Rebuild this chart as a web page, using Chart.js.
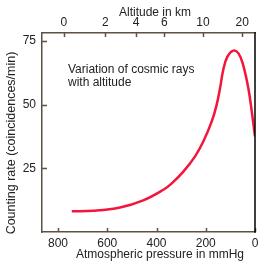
<!DOCTYPE html>
<html>
<head>
<meta charset="utf-8">
<script src="https://cdn.jsdelivr.net/npm/chart.js@4"></script>
<style>
  html, body { margin: 0; padding: 0; background: #fff; }
  #wrap { width: 266px; height: 268px; }
</style>
</head>
<body>
<div id="wrap"><canvas id="cosmic"></canvas></div>
<script>
// counting rate vs atmospheric pressure
var pressure = [744, 657, 548, 454, 372, 338, 291, 244, 210, 176, 156, 142, 129, 112, 88, 67, 48, 27, 13, 0];
var rate = [8.1, 8.3, 9.6, 12.4, 16.6, 19.1, 23.7, 29.6, 35.5, 43.3, 49.8, 56.4, 63.6, 68.8, 71.2, 70.1, 65.5, 56.4, 47.2, 37.5];

// bottom axis ticks
var pressureTicks = [800, 600, 400, 200, 0];
// top axis: altitude labels and the pressure where each one sits
var altitudeKm = [0, 2, 4, 6, 10, 20];
var altitudeAt = [776, 608, 483, 368, 211, 52];
// left axis ticks
var rateTicks = [25, 50, 75];

var axisColor = '#5b5245';
var textColor = '#222';
var font = 'Liberation Sans, Arial, Helvetica, sans-serif';

// inward tick marks, right border, axis titles and the note
var framePlugin = {
    id: 'frame',
    afterDraw: function(chart) {
        var ctx = chart.ctx;
        var a = chart.chartArea;
        var x = chart.scales.x, x2 = chart.scales.x2, y = chart.scales.y;
        ctx.save();
        ctx.strokeStyle = axisColor;
        ctx.lineWidth = 1.5;
        ctx.beginPath();
        x.ticks.forEach(function(t) {
            var px = Math.round(x.getPixelForValue(t.value)) + 0.5;
            ctx.moveTo(px, a.bottom); ctx.lineTo(px, a.bottom - 4);
        });
        x2.ticks.forEach(function(t) {
            var px = Math.round(x2.getPixelForValue(t.value)) + 0.5;
            ctx.moveTo(px, a.top); ctx.lineTo(px, a.top + 4);
        });
        y.ticks.forEach(function(t) {
            var py = Math.round(y.getPixelForValue(t.value)) + 0.5;
            ctx.moveTo(a.left, py); ctx.lineTo(a.left + 5, py);
        });
        ctx.stroke();

        ctx.strokeStyle = '#000';
        ctx.lineWidth = 1.5;
        ctx.beginPath();
        ctx.moveTo(a.right, a.top - 0.75); ctx.lineTo(a.right, a.bottom + 0.75);
        ctx.stroke();

        ctx.fillStyle = textColor;
        ctx.font = '12px ' + font;
        ctx.textAlign = 'center';
        ctx.textBaseline = 'middle';
        ctx.fillText('Altitude in km', 155, 13);
        ctx.fillText('Atmospheric pressure in mmHg', 160, 255);
        ctx.save();
        ctx.translate(12, 143);
        ctx.rotate(-Math.PI / 2);
        ctx.font = '12.5px ' + font;
        ctx.fillText('Counting rate (coincidences/min)', 0, 0);
        ctx.restore();

        ctx.textAlign = 'left';
        ctx.fillText('Variation of cosmic rays', a.left + 26, 70);
        ctx.fillText('with altitude', a.left + 26, 82.5);
        ctx.restore();
    }
};

var noGrid = { display: false, drawTicks: false, tickLength: 0 };

var chart = new Chart(document.getElementById('cosmic'), {
    type: 'line',
    data: {
        datasets: [{
            data: pressure.map(function(p, i) { return { x: p, y: rate[i] }; }),
            borderColor: '#f5143c',
            borderWidth: 2.5,
            pointRadius: 0,
            tension: 0.4,
            fill: false
        }]
    },
    options: {
        responsive: true,
        maintainAspectRatio: false,
        animation: false,
        layout: { padding: { left: 0, right: 11, top: 0, bottom: 0 } },
        plugins: { legend: { display: false }, tooltip: { enabled: false } },
        scales: {
            x: {
                type: 'linear',
                position: 'bottom',
                reverse: true,
                min: 0,
                max: 865,
                afterBuildTicks: function(s) { s.ticks = pressureTicks.map(function(v) { return { value: v }; }); },
                afterFit: function(s) { s.height = 36; },
                grid: noGrid,
                border: { display: true, color: axisColor, width: 1.5 },
                ticks: { padding: 4, color: textColor, font: { family: font, size: 12 }, maxRotation: 0 }
            },
            x2: {
                type: 'linear',
                position: 'top',
                reverse: true,
                min: 0,
                max: 865,
                afterBuildTicks: function(s) { s.ticks = altitudeAt.map(function(v) { return { value: v }; }); },
                afterFit: function(s) { s.height = 33; },
                grid: noGrid,
                border: { display: true, color: axisColor, width: 1.5 },
                ticks: {
                    padding: 3, color: textColor, font: { family: font, size: 12 }, maxRotation: 0,
                    callback: function(v, i) { return String(altitudeKm[i]); }
                }
            },
            y: {
                type: 'linear',
                min: 0,
                max: 78.1,
                afterBuildTicks: function(s) { s.ticks = rateTicks.map(function(v) { return { value: v }; }); },
                afterFit: function(s) { s.width = 42; },
                grid: noGrid,
                border: { display: true, color: axisColor, width: 1.5 },
                ticks: { padding: 6, color: textColor, font: { family: font, size: 12 } }
            }
        }
    },
    plugins: [framePlugin]
});
</script>
</body>
</html>
